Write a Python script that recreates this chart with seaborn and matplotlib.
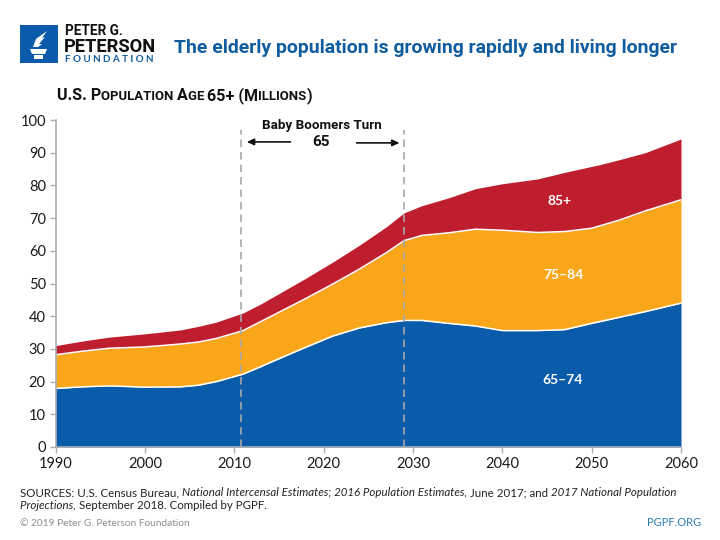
import matplotlib
matplotlib.use("Agg")
import matplotlib.pyplot as plt
from matplotlib.patches import Rectangle, Polygon
from matplotlib.transforms import Affine2D
import seaborn as sns
import pandas as pd

years = [1990, 1993, 1996, 2000, 2004, 2006, 2008, 2011, 2013, 2015, 2018, 2021, 2024, 2027, 2029, 2031,
         2034, 2037, 2040, 2044, 2047, 2050, 2051, 2053, 2056, 2060]
top_65_74 = [17.9, 18.4, 18.7, 18.3, 18.4, 18.9, 20.0, 22.3, 24.6, 27.0, 30.5, 33.9, 36.4, 38.0, 38.7, 38.7,
             37.8, 37.0, 35.6, 35.6, 35.9, 37.8, 38.4, 39.6, 41.4, 44.0]
top_75_84 = [28.2, 29.3, 30.2, 30.6, 31.5, 32.1, 33.2, 35.6, 38.4, 41.2, 45.4, 49.8, 54.4, 59.4, 63.1, 64.7,
             65.5, 66.6, 66.3, 65.6, 65.9, 66.9, 67.7, 69.3, 72.2, 75.6]
top_85_up = [31.0, 32.4, 33.6, 34.6, 35.8, 36.9, 38.2, 41.0, 43.8, 46.9, 51.6, 56.5, 61.7, 67.3, 71.6, 73.8,
             76.2, 79.0, 80.5, 82.0, 84.0, 85.8, 86.4, 87.8, 90.0, 94.2]
band_labels = ["65–74", "75–84", "85+"]
band_colors = ["#0A5CAB", "#FAA61A", "#BE1E2D"]
x_ticks = [1990, 2000, 2010, 2020, 2030, 2040, 2050, 2060]
y_ticks = [0, 10, 20, 30, 40, 50, 60, 70, 80, 90, 100]
boomer_start, boomer_end = 2010.8, 2029.0

sns.set_theme(style="ticks")
BODY = ["Lato", "DejaVu Sans"]
NARROW = ["Roboto", "DejaVu Sans"]
plt.rcParams["font.family"] = BODY

fig = plt.figure(figsize=(7.2, 5.4), dpi=100, facecolor="white")
T = Affine2D().scale(1, -1).translate(0, 540)   # pixel coordinates, origin top-left
ax = fig.add_axes([55.5 / 720, (540 - 447) / 540, (681 - 55.5) / 720, 327 / 540])

df = pd.DataFrame({"year": years, "65–74": top_65_74, "75–84": top_75_84, "85+": top_85_up})
ax.fill_between(df["year"], 0, df["65–74"], color=band_colors[0], lw=0, zorder=1)
ax.fill_between(df["year"], df["65–74"], df["75–84"], color=band_colors[1], lw=0, zorder=1)
ax.fill_between(df["year"], df["75–84"], df["85+"], color=band_colors[2], lw=0, zorder=1)
sns.lineplot(data=df, x="year", y="65–74", ax=ax, color="white", lw=1.1, zorder=2)
sns.lineplot(data=df, x="year", y="75–84", ax=ax, color="white", lw=1.1, zorder=2)

ax.set_xlim(1990, 2060)
ax.set_ylim(0, 100)
ax.set_xticks(x_ticks)
ax.set_yticks(y_ticks)
ax.set_xlabel("")
ax.set_ylabel("")
ax.tick_params(axis="both", length=4, width=1, color="#a9aeb3", labelsize=10.5, labelcolor="#1a1a1a", pad=3)
sns.despine(ax=ax)
for s in ("left", "bottom"):
    ax.spines[s].set_color("#a9aeb3")
    ax.spines[s].set_linewidth(1.2)

ax.vlines([boomer_start, boomer_end], 0, 97, color="#a6a8ab", lw=1.2, linestyles=(0, (4.5, 3)), zorder=3)
arrow = dict(arrowstyle="-|>,head_length=0.35,head_width=0.16", color="#111111", lw=1.2, shrinkA=0, shrinkB=0)
ax.annotate("", xy=(2011.4, 93.3), xytext=(2016.3, 93.3), arrowprops=arrow)
ax.annotate("", xy=(2028.5, 93.0), xytext=(2023.7, 93.0), arrowprops=arrow)


def run(parts, x, y, color="#111111", family=BODY):
    """Lay text pieces end to end; each part is (string, size, weight, style)."""
    r = fig.canvas.get_renderer()
    for s, size, weight, style in parts:
        t = fig.text(x, y, s, transform=T, fontsize=size, fontweight=weight, fontstyle=style,
                     color=color, family=family, va="baseline", ha="left")
        x = T.inverted().transform(t.get_window_extent(r).get_points())[1][0]
    return x


# Band labels
for label, px, py in zip(band_labels, (563, 563, 560), (380, 275, 201)):
    fig.text(px, py, label, transform=T, color="white", fontsize=10, fontweight="bold",
             ha="center", va="center")
# Annotation
fig.text(322, 125, "Baby Boomers Turn", transform=T, fontsize=9.6, fontweight="bold", family=NARROW,
         color="#111111", ha="center", va="center")
fig.text(321, 142, "65", transform=T, fontsize=11, fontweight="bold", family=NARROW,
         color="#111111", ha="center", va="center")

# Title
fig.text(174, 53, "The elderly population is growing rapidly and living longer", transform=T,
         fontsize=13.95, fontweight="bold", family=NARROW, color="#0F5C9E", va="baseline")

# Small-caps subtitle
big, small = 11.6, 9.45
run([("U.S. P", big, "bold", "normal"), ("OPULATION ", small, "bold", "normal"),
     ("A", big, "bold", "normal"), ("GE ", small, "bold", "normal"),
     ("65+ (M", big, "bold", "normal"), ("ILLIONS", small, "bold", "normal"),
     (")", big, "bold", "normal")], 57, 100, family=NARROW)

# Logo
fig.add_artist(Rectangle((20, 25), 38, 38, transform=T, facecolor="#0A5CAB", edgecolor="none"))
fig.add_artist(Polygon([(30, 49), (47, 49), (45, 54), (32, 54)], transform=T, facecolor="white", edgecolor="none"))
fig.add_artist(Rectangle((34, 55), 9, 3.5, transform=T, facecolor="white", edgecolor="none"))
fig.add_artist(Polygon([(33, 47), (36, 39), (47, 31), (42, 38), (45, 37), (39, 44), (42, 44), (38, 47)],
                       transform=T, facecolor="white", edgecolor="none"))
fig.text(65, 35, "PETER G.", transform=T, fontsize=9.8, fontweight="bold", family=NARROW, color="#111111", va="baseline")
fig.text(64, 52, "PETERSON", transform=T, fontsize=13.2, fontweight="bold", family=NARROW, color="#111111", va="baseline")
fig.text(65, 62, "F O U N D A T I O N", transform=T, fontsize=7.1, fontweight="bold", color="#0F5C9E", va="baseline")

# Footer
fs = 8.26
run([("SOURCES: U.S. Census Bureau, ", fs, "normal", "normal"),
     ("National Intercensal Estimates; 2016 Population Estimates, ", fs, "normal", "italic"),
     ("June 2017; and ", fs, "normal", "normal"),
     ("2017 National Population", fs, "normal", "italic")], 20, 496, color="#222222")
run([("Projections, ", fs, "normal", "italic"),
     ("September 2018. Compiled by PGPF.", fs, "normal", "normal")], 20, 509, color="#222222")
fig.text(20, 526, "© 2019 Peter G. Peterson Foundation", transform=T, fontsize=7.3, color="#8a8d90", va="baseline")
fig.text(701, 526, "PGPF.ORG", transform=T, fontsize=8, color="#2B7BB5", va="baseline", ha="right")

fig.savefig("out.png", dpi=100, facecolor="white")
